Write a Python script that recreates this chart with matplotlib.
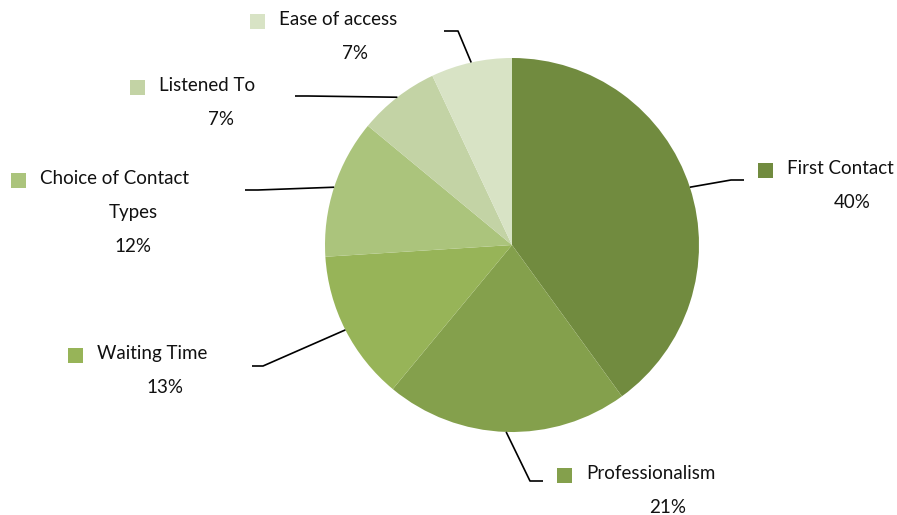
"""
Customer feedback pie chart with leader-line labels
"""

import matplotlib.pyplot as plt
from matplotlib.patches import Rectangle
import numpy as np

categories = ["First Contact", "Professionalism", "Waiting Time",
              "Choice of Contact\nTypes", "Listened To", "Ease of access"]
shares = [40, 21, 13, 12, 7, 7]
colors = ["#718b3f", "#84a04c", "#97b458", "#abc47c", "#c3d3a5", "#d8e3c5"]

W, H = 897, 515

# label layout in pixels (y measured from the top):
# square x, name baseline, percent centre x, leader elbow, leader end
layout = [
    (758, 174, 852, (731, 180), (744, 180)),
    (557, 479, 668, (530, 481), (543, 481)),
    (68, 359, 165, (263, 366), (252, 366)),
    (11, 184, 133, (258, 190), (245, 190)),
    (130, 91, 221, (308, 96), (295, 96)),
    (250, 25, 355, (458, 31), (444, 31)),
]

plt.rcParams['font.family'] = ['Lato', 'DejaVu Sans']
FS = 13.5
LINE_GAP = 34


def fy(y):
    """Convert a top-down pixel y to axes data y"""
    return H - y


fig = plt.figure(figsize=(W / 100, H / 100), dpi=100)
ax = fig.add_axes([0, 0, 1, 1])

center = (512, fy(245))
radius = 187
wedges, _ = ax.pie(shares, colors=colors, startangle=90, counterclock=False,
                   center=center, radius=radius,
                   wedgeprops=dict(linewidth=0))
ax.set_xlim(0, W)
ax.set_ylim(0, H)
ax.set_aspect('equal')
ax.axis('off')

for w, name, val, col, (sq_x, base, pct_x, elbow, end) in zip(
        wedges, categories, shares, colors, layout):
    # leader line from the middle of the wedge's arc
    mid = np.deg2rad((w.theta1 + w.theta2) / 2)
    sx = center[0] + radius * np.cos(mid)
    sy = center[1] + radius * np.sin(mid)
    ax.plot([sx, elbow[0], end[0]], [sy, fy(elbow[1]), fy(end[1])],
            color='black', linewidth=1.2, solid_capstyle='butt')

    # colour key square and category name
    ax.add_patch(Rectangle((sq_x, fy(base + 4)), 15, 15, color=col, linewidth=0))
    lines = name.split("\n")
    ax.text(sq_x + 29, fy(base), lines[0], fontsize=FS, ha='left',
            va='baseline', color='#111111')
    y = base
    for extra in lines[1:]:
        y += LINE_GAP
        ax.text(pct_x, fy(y), extra, fontsize=FS, ha='center',
                va='baseline', color='#111111')
    y += LINE_GAP
    ax.text(pct_x, fy(y), f"{val}%", fontsize=FS, ha='center',
            va='baseline', color='#111111')

fig.savefig('out.png', dpi=100)
